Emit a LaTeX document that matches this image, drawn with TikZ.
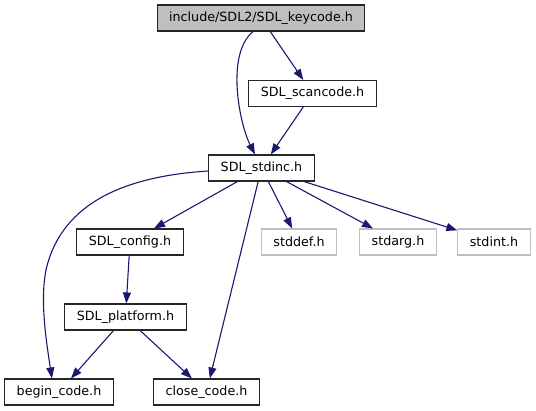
\documentclass[tikz,border=0pt]{standalone}
\usepackage{fontspec}
\setmainfont{DejaVu Sans}
\usepackage{xcolor}
\usepackage{tikz}
\usetikzlibrary{positioning,arrows.meta}

\definecolor{edgeblue}{HTML}{191970}
\definecolor{rootgray}{HTML}{BFBFBF}
\definecolor{extgray}{HTML}{BFBFBF}

\begin{document}
\begin{tikzpicture}[
    x=1pt, y=-1pt,
    font=\fontsize{12.7}{15}\selectfont,
    file/.style={
      rectangle, draw=black!85, fill=white, line width=1.1pt,
      inner xsep=12pt, inner ysep=0pt, minimum height=26pt
    },
    root/.style={file, fill=rootgray},
    ext/.style={file, draw=extgray},
    dep/.style={-{Triangle[length=11pt,width=8pt]}, edgeblue, line width=1.1pt}
  ]
    \useasboundingbox (0,0) rectangle (536,411);

    % included files, row by row
    \node[root] (keycode)  at (261,18)    {include/SDL2/SDL\_keycode.h};
    \node[file] (scancode) at (312.5,93.5) {SDL\_scancode.h};
    \node[file] (stdinc)   at (261.5,168) {SDL\_stdinc.h};
    \node[file] (config)   at (130,242)   {SDL\_config.h};
    \node[ext]  (stddef)   at (299,242)   {stddef.h};
    \node[ext]  (stdarg)   at (398,242)   {stdarg.h};
    \node[ext]  (stdint)   at (494,242)   {stdint.h};
    \node[file] (platform) at (125.5,317) {SDL\_platform.h};
    \node[file] (begin)    at (59,392)    {begin\_code.h};
    \node[file] (close)    at (206.5,392) {close\_code.h};

    % include edges
    \draw[dep] (keycode) -- (scancode);
    \draw[dep] ([xshift=-8pt]keycode.south) .. controls (225,55) and (240,125)
      .. ([xshift=-6.5pt]stdinc.north);
    \draw[dep] (scancode) -- (stdinc);
    \draw[dep] (stdinc) -- (config);
    \draw[dep] (stdinc) -- (stddef);
    \draw[dep] (stdinc) -- (stdarg);
    \draw[dep] (stdinc) -- (stdint);
    \draw[dep] (stdinc) -- (close);
    \draw[dep] ([yshift=-3pt]stdinc.west) .. controls (130,176) and (62,200) .. (46,270)
      .. controls (40,300) and (46,340) .. ([xshift=-7pt]begin.north);
    \draw[dep] (config) -- (platform);
    \draw[dep] (platform) -- (begin);
    \draw[dep] (platform) -- (close);
  \end{tikzpicture}
\end{document}
